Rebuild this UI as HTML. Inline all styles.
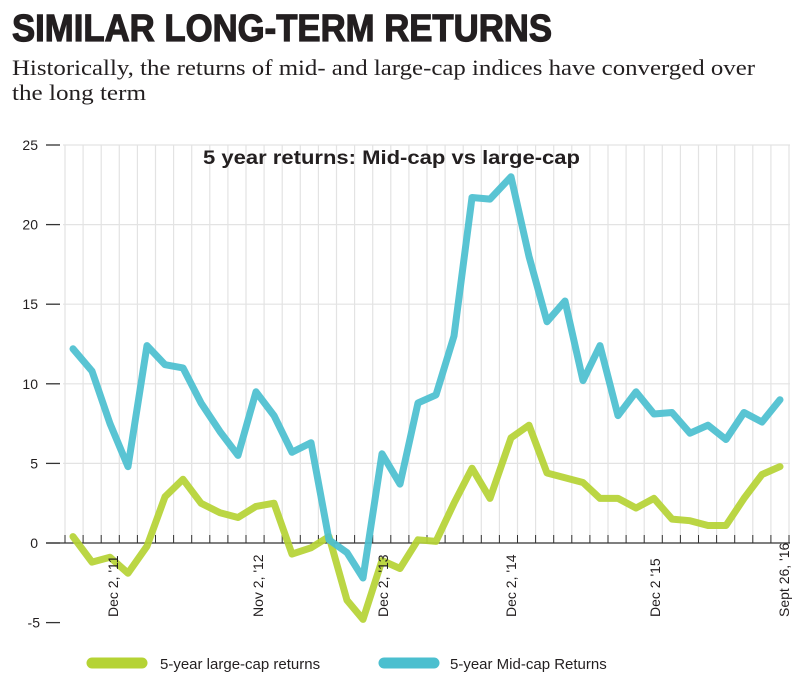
<!DOCTYPE html>
<html><head><meta charset="utf-8"><style>
html,body{margin:0;padding:0;background:#fff;}
svg{display:block;}
</style></head><body>
<svg id="s" width="800" height="685" xmlns="http://www.w3.org/2000/svg" font-family="Liberation Sans, sans-serif">
<text x="12" y="41" font-size="38" font-weight="bold" fill="#231f20" stroke="#231f20" stroke-width="1.2" textLength="540" lengthAdjust="spacingAndGlyphs">SIMILAR LONG-TERM RETURNS</text>
<text x="12" y="75" font-size="22" font-family="Liberation Serif, serif" fill="#231f20" textLength="743" lengthAdjust="spacingAndGlyphs">Historically, the returns of mid- and large-cap indices have converged over</text>
<text x="12" y="100" font-size="22" font-family="Liberation Serif, serif" fill="#231f20" textLength="134" lengthAdjust="spacingAndGlyphs">the long term</text>
<g id="grid"></g>
<text x="203" y="164" font-size="19" font-weight="bold" fill="#231f20" textLength="377" lengthAdjust="spacingAndGlyphs">5 year returns: Mid-cap vs large-cap</text>
<g id="lines"></g>
<g font-size="14" fill="#231f20">
<text transform="translate(118,617) rotate(-90)">Dec 2, '11</text>
<text transform="translate(263,617) rotate(-90)">Nov 2, '12</text>
<text transform="translate(388,617) rotate(-90)">Dec 2, '13</text>
<text transform="translate(516,617) rotate(-90)">Dec 2, '14</text>
<text transform="translate(660,617) rotate(-90)">Dec 2 '15</text>
<text transform="translate(789,617) rotate(-90)">Sept 26, '16</text>
</g>
<line x1="92" y1="663" x2="142" y2="663" stroke="#b5d334" stroke-width="11" stroke-linecap="round"/>
<text x="160" y="669" font-size="15" fill="#231f20">5-year large-cap returns</text>
<line x1="384" y1="663" x2="434" y2="663" stroke="#4bbfcf" stroke-width="11" stroke-linecap="round"/>
<text x="450" y="669" font-size="15" fill="#231f20">5-year Mid-cap Returns</text>
</svg>
<script>
var NS="http://www.w3.org/2000/svg";
function el(p,t,a){var e=document.createElementNS(NS,t);for(var k in a)e.setAttribute(k,a[k]);p.appendChild(e);return e;}
var g=document.getElementById('grid'),L=document.getElementById('lines');
function Y(v){return 543-v*15.92;}
for(var x=65;x<=790;x+=18.1){el(g,'line',{x1:x,y1:145,x2:x,y2:543,stroke:'#e3e3e3','stroke-width':1.2});el(g,'line',{x1:x,y1:535,x2:x,y2:543,stroke:'#333','stroke-width':1});}
[25,20,15,10,5].forEach(function(v){el(g,'line',{x1:63,y1:Y(v),x2:790,y2:Y(v),stroke:'#e3e3e3','stroke-width':1.2});});
[25,20,15,10,5,0,-5].forEach(function(v){el(g,'line',{x1:46,y1:Y(v),x2:60,y2:Y(v),stroke:'#333','stroke-width':1.3});var t=el(g,'text',{x:(v==-5?40:38),y:Y(v)+5,'font-size':14,fill:'#231f20','text-anchor':'end'});t.textContent=v;});
el(g,'line',{x1:46,y1:543,x2:790,y2:543,stroke:'#333','stroke-width':1.3});
var xs=[73,92,110,128,147,165,183,201,220,238,256,274,292,311,329,347,363,382,400,418,436,454,472,490,511,529,547,565,583,600,618,636,654,672,690,708,726,744,762,780];
var mid=[12.2,10.8,7.5,4.8,12.4,11.2,11.0,8.8,7.0,5.5,9.5,8.0,5.7,6.3,0.2,-0.6,-2.2,5.6,3.7,8.8,9.3,13.0,21.7,21.6,23.0,18.0,13.9,15.2,10.2,12.4,8.0,9.5,8.1,8.2,6.9,7.4,6.5,8.2,7.6,9.0];
var lg=[0.4,-1.2,-0.9,-1.9,-0.2,2.9,4.0,2.5,1.9,1.6,2.3,2.5,-0.7,-0.3,0.4,-3.6,-4.8,-1.1,-1.6,0.2,0.1,2.5,4.7,2.8,6.6,7.4,4.4,4.1,3.8,2.8,2.8,2.2,2.8,1.5,1.4,1.1,1.1,2.8,4.3,4.8];
function pl(d,c){el(L,'polyline',{points:xs.map(function(x,i){return x+','+Y(d[i]).toFixed(1);}).join(' '),fill:'none',stroke:c,'stroke-width':7,'stroke-linejoin':'round','stroke-linecap':'round','stroke-opacity':0.92});}
pl(lg,'#b5d334');pl(mid,'#4bbfcf');
</script>
</body></html>
